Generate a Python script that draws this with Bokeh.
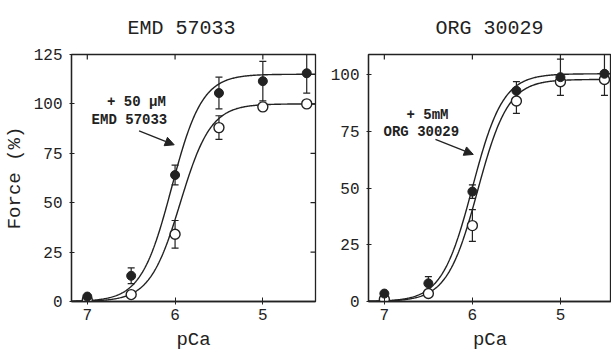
import numpy as np
from bokeh.plotting import figure
from bokeh.layouts import row
from bokeh.models import (Range1d, FixedTicker, Whisker, ColumnDataSource,
                          TeeHead, Label, Arrow, NormalHead)
from bokeh.embed import file_html
from bokeh.resources import INLINE

# ---- data ----
pCa = [7.0, 6.5, 6.0, 5.5, 5.0, 4.5]

emd_ctrl = [0.8, 3.5, 34.0, 88.0, 98.5, 100.0]
emd_ctrl_err = [0, 0, 7.0, 6.0, 0, 0]
emd_drug = [2.5, 13.0, 64.0, 105.5, 111.5, 115.5]
emd_drug_err = [0, 4.0, 5.0, 8.0, 10.0, 10.0]

org_ctrl = [1.0, 3.5, 33.5, 88.5, 97.0, 98.0]
org_ctrl_err = [0, 0, 7.0, 5.5, 0, 0]
org_drug = [3.5, 8.0, 48.5, 93.0, 99.0, 100.5]
org_drug_err = [0, 3.0, 3.0, 4.0, 8.0, 9.5]

# Hill fit parameters (Fmax, pCa50, nH)
emd_ctrl_fit = [100.0, 5.94, 2.5]
emd_drug_fit = [115.0, 6.04, 2.5]
org_ctrl_fit = [98.0, 5.94, 2.5]
org_drug_fit = [100.5, 6.00, 2.5]

x_ticks = [7, 6, 5]
emd_y_ticks = [0, 25, 50, 75, 100, 125]
org_y_ticks = [0, 25, 50, 75, 100]

FONT = "Liberation Mono"
INK = "#222222"
H = 354


def hill(params, x):
    fmax, p50, n = params
    return fmax / (1.0 + 10.0 ** (n * (x - p50)))


def make_panel(title, width, border_left, border_right, x_end, y_end, y_ticks, ctrl, ctrl_err,
               drug, drug_err, ctrl_fit, drug_fit, ylabel, title_offset, right_ticks=True):
    p = figure(width=width, height=H, output_backend="svg", toolbar_location=None,
               x_range=Range1d(7.18, x_end), y_range=Range1d(0, y_end),
               min_border_left=border_left, min_border_right=border_right, min_border_top=52,
               min_border_bottom=53, background_fill_color="white",
               border_fill_color="white")
    p.grid.visible = False
    p.outline_line_color = INK
    p.outline_line_width = 1.3

    p.title.text = title
    p.title.text_font = FONT
    p.title.text_font_size = "20px"
    p.title.text_font_style = "normal"
    p.title.text_color = INK
    p.title.align = "left"
    p.title.standoff = 29
    p.title.offset = title_offset

    xa = p.xaxis[0]
    xa.ticker = FixedTicker(ticks=x_ticks)
    xa.axis_label = "pCa"
    ya = p.yaxis[0]
    ya.ticker = FixedTicker(ticks=y_ticks)
    if ylabel:
        ya.axis_label = ylabel
    for ax in (xa, ya):
        ax.axis_line_color = INK
        ax.axis_line_width = 1.3
        ax.major_tick_line_color = INK
        ax.minor_tick_line_color = None
        ax.major_label_text_font = FONT
        ax.major_label_text_font_size = "16px"
        ax.major_label_text_color = INK
        ax.axis_label_text_font = FONT
        ax.axis_label_text_font_size = "19px"
        ax.axis_label_text_font_style = "normal"
        ax.axis_label_text_color = INK
    xa.major_tick_in = 4
    xa.major_tick_out = 3
    xa.major_label_standoff = 4
    xa.axis_label_standoff = 6
    ya.major_tick_in = 3
    ya.major_tick_out = 2
    ya.major_label_standoff = 7
    ya.axis_label_standoff = 5

    # mirrored inward ticks on the top (and right) edges of the box
    ty = 5.0 * y_end / 249.0
    p.segment(x0=x_ticks, y0=[y_end] * len(x_ticks), x1=x_ticks, y1=[y_end - ty] * len(x_ticks),
              line_color=INK, line_width=1.2)
    if right_ticks:
        tx = 5.0 * (7.18 - x_end) / 245.0
        p.segment(x0=[x_end] * len(y_ticks), y0=y_ticks, x1=[x_end + tx] * len(y_ticks),
                  y1=y_ticks, line_color=INK, line_width=1.2)

    xs = np.linspace(7.18, x_end, 300)
    p.line(xs, hill(ctrl_fit, xs), line_color=INK, line_width=1.4)
    p.line(xs, hill(drug_fit, xs), line_color=INK, line_width=1.4)

    for vals, errs in ((ctrl, ctrl_err), (drug, drug_err)):
        xe = [x for x, e in zip(pCa, errs) if e > 0]
        ve = [v for v, e in zip(vals, errs) if e > 0]
        ee = [e for e in errs if e > 0]
        src = ColumnDataSource(dict(x=xe, lo=[v - e for v, e in zip(ve, ee)],
                                    hi=[v + e for v, e in zip(ve, ee)]))
        w = Whisker(source=src, base="x", lower="lo", upper="hi", dimension="height",
                    line_color=INK, line_width=1.2,
                    upper_head=TeeHead(size=7, line_color=INK, line_width=1.2),
                    lower_head=TeeHead(size=7, line_color=INK, line_width=1.2))
        p.add_layout(w)

    p.scatter(pCa, ctrl, size=10, marker="circle", fill_color="white", line_color=INK,
              line_width=1.4)
    p.scatter(pCa, drug, size=9, marker="circle", fill_color=INK, line_color=INK)
    return p


p1 = make_panel("EMD 57033", 318, 70, 3, 4.40, 125, emd_y_ticks, emd_ctrl, emd_ctrl_err,
                emd_drug, emd_drug_err, emd_ctrl_fit, emd_drug_fit, "Force (%)", 56)
p2 = make_panel("ORG 30029", 293, 50, 0, 4.42, 109, org_y_ticks, org_ctrl, org_ctrl_err,
                org_drug, org_drug_err, org_ctrl_fit, org_drug_fit, "", 67, right_ticks=False)


def annot(p, lines, xs, ys, arrow):
    for t, x, y in zip(lines, xs, ys):
        p.add_layout(Label(x=x, y=y, text=t, text_font=FONT, text_font_size="14px",
                           text_font_style="bold", text_color=INK, text_align="center",
                           text_baseline="middle"))
    p.add_layout(Arrow(x_start=arrow[0], y_start=arrow[1], x_end=arrow[2], y_end=arrow[3],
                       line_color=INK, line_width=1.3,
                       end=NormalHead(size=9, fill_color=INK, line_color=INK)))


annot(p1, ["+ 50 \u03bcM", "EMD 57033"], [6.44, 6.52], [100.9, 91.9], (6.41, 86.3, 6.01, 79.3))
annot(p2, ["+ 5mM", "ORG 30029"], [6.51, 6.58], [82.5, 75.0], (6.42, 71.5, 5.99, 64.9))

layout = row(p1, p2)
open("out.html", "w").write(file_html(layout, INLINE))
